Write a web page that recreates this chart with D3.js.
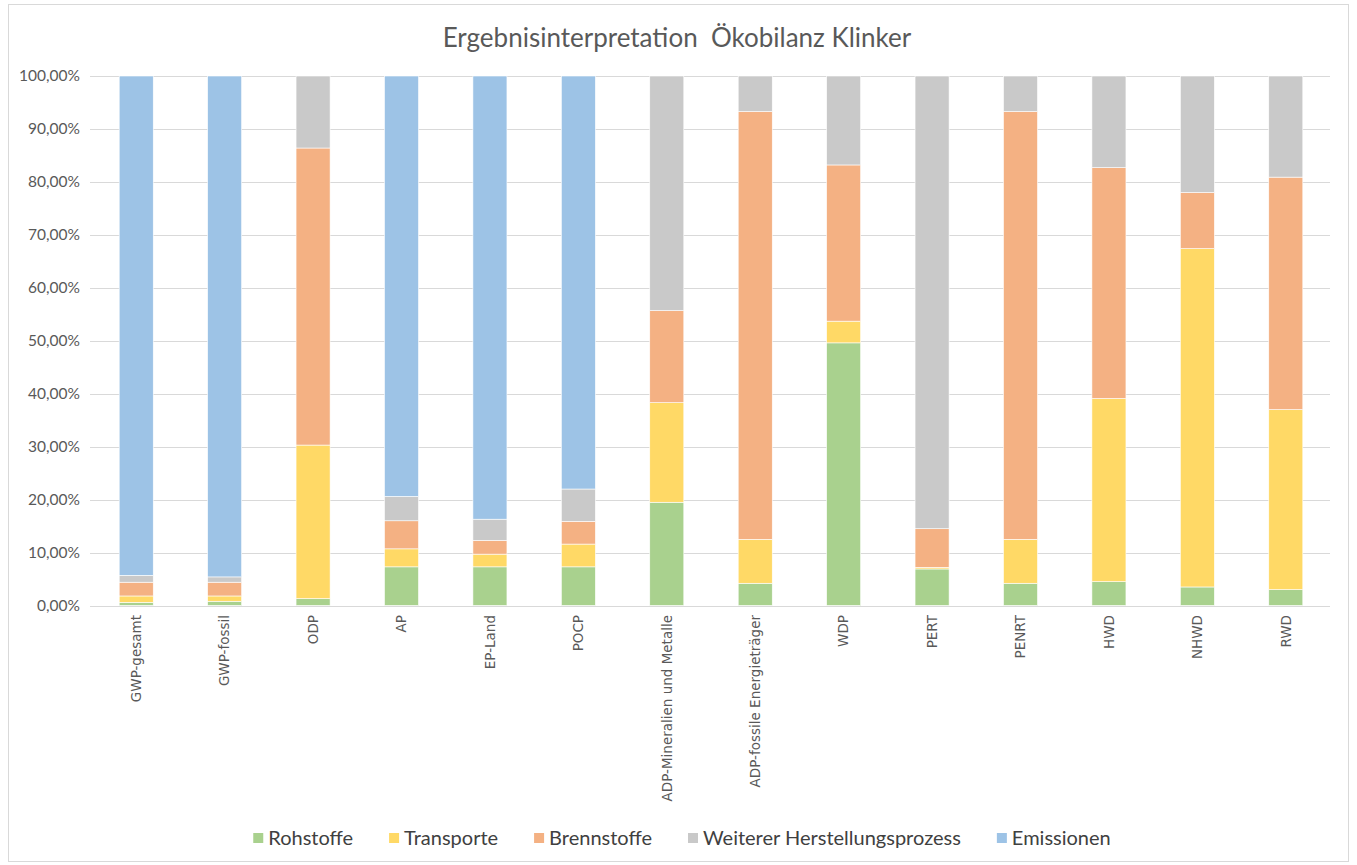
<!DOCTYPE html>
<html>
<head>
<meta charset="utf-8">
<script src="https://cdnjs.cloudflare.com/ajax/libs/d3/7.8.5/d3.min.js"></script>
<style>
  body { margin: 0; background: #fff; }
</style>
</head>
<body>
<div id="chart"></div>
<script>
// Ergebnisinterpretation Ökobilanz Klinker - gestapelte 100%-Säulen

var categories = ["GWP-gesamt", "GWP-fossil", "ODP", "AP", "EP-Land", "POCP",
    "ADP-Mineralien und Metalle", "ADP-fossile Energieträger", "WDP", "PERT",
    "PENRT", "HWD", "NHWD", "RWD"];

var seriesNames = ["Rohstoffe", "Transporte", "Brennstoffe", "Weiterer Herstellungsprozess", "Emissionen"];

// Anteile in %
var rohstoffe   = [0.6, 0.8, 1.3, 7.3, 7.3, 7.3, 19.5, 4.2, 49.6, 6.9, 4.2, 4.5, 3.5, 3.0];
var transporte  = [1.2, 1.0, 29.0, 3.4, 2.4, 4.3, 18.8, 8.3, 4.1, 0.3, 8.3, 34.6, 63.9, 34.0];
var brennstoffe = [2.6, 2.6, 56.1, 5.3, 2.6, 4.3, 17.4, 80.8, 29.5, 7.3, 80.8, 43.6, 10.6, 43.9];
var weiterer    = [1.3, 1.0, 13.6, 4.6, 4.0, 6.1, 44.3, 6.7, 16.8, 85.5, 6.7, 17.3, 22.0, 19.1];
var emissionen  = [94.3, 94.6, 0, 79.4, 83.7, 78.0, 0, 0, 0, 0, 0, 0, 0, 0];

var yTicks = [0, 10, 20, 30, 40, 50, 60, 70, 80, 90, 100];

var colors = ["#A9D18E", "#FFD966", "#F4B183", "#C9C9C9", "#9DC3E6"];

var width = 1357, height = 865;
var plot = {left: 92, right: 1330, top: 76, bottom: 605.5};

var rows = categories.map(function(c, i) {
    return {
        cat: c,
        "Rohstoffe": rohstoffe[i],
        "Transporte": transporte[i],
        "Brennstoffe": brennstoffe[i],
        "Weiterer Herstellungsprozess": weiterer[i],
        "Emissionen": emissionen[i]
    };
});

var svg = d3.select("#chart").append("svg")
    .attr("width", width)
    .attr("height", height);

// Rahmen
svg.append("rect")
    .attr("x", 8.5).attr("y", 4.5)
    .attr("width", 1340).attr("height", 857)
    .attr("fill", "#fff")
    .attr("stroke", "#d9d9d9");

var x = d3.scaleBand()
    .domain(categories)
    .range([plot.left, plot.right])
    .paddingInner(0.615)
    .paddingOuter(0.3075);

var y = d3.scaleLinear()
    .domain([0, 100])
    .range([plot.bottom, plot.top]);

var fmt = function(d) { return d3.format(".2f")(d).replace(".", ",") + "%"; };

// Gitterlinien
svg.append("g")
    .selectAll("line")
    .data(yTicks)
    .enter().append("line")
    .attr("x1", plot.left - 2)
    .attr("x2", plot.right)
    .attr("y1", function(d) { return Math.round(y(d)) + 0.5; })
    .attr("y2", function(d) { return Math.round(y(d)) + 0.5; })
    .attr("stroke", "#d9d9d9")
    .attr("stroke-width", 1);

svg.append("g")
    .attr("font-family", "Lato, 'Open Sans', sans-serif")
    .attr("font-size", 15.5)
    .attr("fill", "#595959")
    .selectAll("text")
    .data(yTicks)
    .enter().append("text")
    .attr("x", 80)
    .attr("y", function(d) { return y(d); })
    .attr("dy", "0.35em")
    .attr("text-anchor", "end")
    .text(fmt);

// Säulen
var stack = d3.stack().keys(seriesNames);
var layers = stack(rows);

svg.append("g")
    .selectAll("g")
    .data(layers)
    .enter().append("g")
    .attr("fill", function(d, i) { return colors[i]; })
    .selectAll("rect")
    .data(function(d) { return d.filter(function(p) { return p[1] - p[0] > 0; }); })
    .enter().append("rect")
    .attr("x", function(d) { return x(d.data.cat); })
    .attr("width", x.bandwidth())
    .attr("y", function(d) { return y(d[1]); })
    .attr("height", function(d) { return y(d[0]) - y(d[1]); })
    .attr("stroke", "#fff")
    .attr("stroke-width", 0.6);

// Kategorien
svg.append("g")
    .attr("font-family", "'DejaVu Sans', sans-serif")
    .attr("font-size", 13.5)
    .attr("fill", "#595959")
    .selectAll("text")
    .data(categories)
    .enter().append("text")
    .attr("transform", function(d) {
        return "translate(" + (x(d) + x.bandwidth() / 2) + ",615) rotate(-90)";
    })
    .attr("dy", "0.35em")
    .attr("text-anchor", "end")
    .text(function(d) { return d; });

// Titel
svg.append("text")
    .attr("x", 677)
    .attr("y", 47)
    .attr("text-anchor", "middle")
    .attr("font-family", "Lato, 'Open Sans', sans-serif")
    .attr("font-size", 26)
    .attr("fill", "#595959")
    .attr("xml:space", "preserve")
    .text("Ergebnisinterpretation  Ökobilanz Klinker");

// Legende
var legend = svg.append("g")
    .attr("font-family", "Lato, 'Open Sans', sans-serif")
    .attr("font-size", 20)
    .attr("fill", "#404040");

var items = legend.selectAll("g")
    .data(seriesNames)
    .enter().append("g");

items.append("rect")
    .attr("width", 10).attr("height", 10)
    .attr("y", -5)
    .attr("fill", function(d, i) { return colors[i]; });

items.append("text")
    .attr("x", 15)
    .attr("dy", "0.35em")
    .text(function(d) { return d; });

var pos = 0, gap = 36, offsets = [];
items.each(function() {
    offsets.push(pos);
    pos += this.getBBox().width + gap;
});
var total = pos - gap;
var start = 682 - total / 2;
items.attr("transform", function(d, i) { return "translate(" + (start + offsets[i]) + ",838)"; });
</script>
</body>
</html>
